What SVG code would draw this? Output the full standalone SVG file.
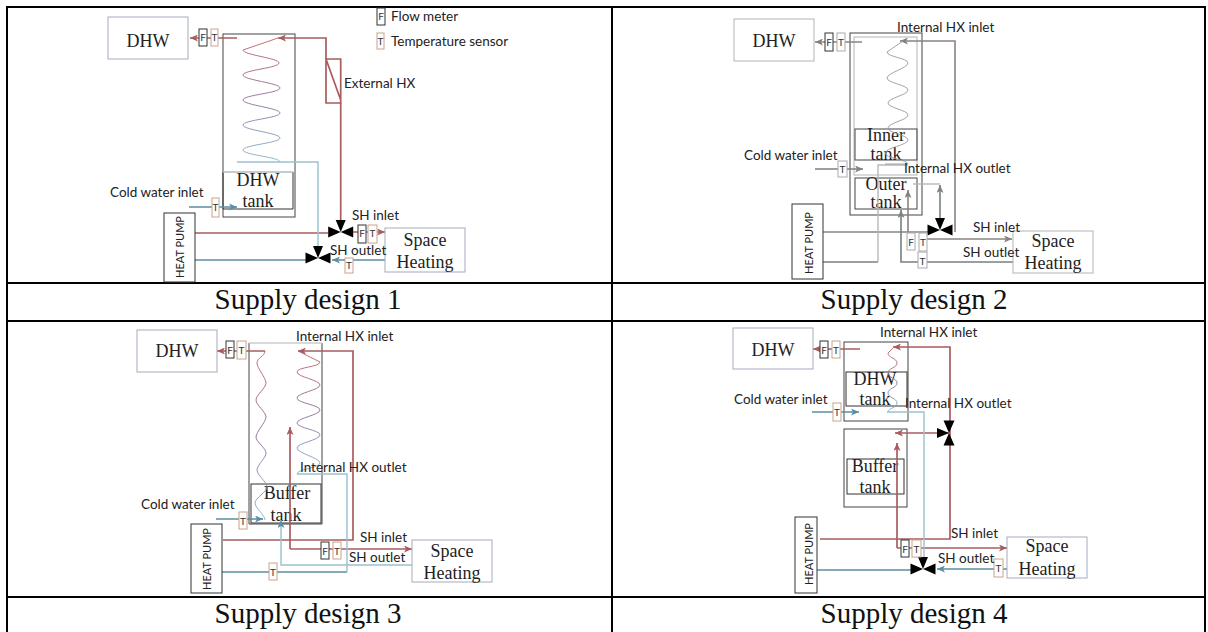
<svg xmlns="http://www.w3.org/2000/svg" width="1208" height="632" viewBox="0 0 1208 632">
<style>
.grid{stroke:#000;stroke-width:2;fill:none}
.cap{font:29px "Liberation Serif",serif;fill:#111;text-anchor:middle}
.t{font:18px "Liberation Serif",serif;fill:#222;text-anchor:middle}
.l{font:13.5px Lato,"Open Sans",sans-serif;fill:#222}
.hp{font:11px Lato,"Open Sans",sans-serif;fill:#222;text-anchor:middle}
.s{font:10px Lato,"Open Sans",sans-serif;fill:#333;text-anchor:middle}
.box{fill:#fff;stroke:#a4abbc;stroke-width:1}
.gbox{fill:#fff;stroke:#b4b4b4;stroke-width:1}
.tank{fill:none;stroke:#444;stroke-width:1}
.in{fill:none;stroke:#333;stroke-width:1}
.hpb{fill:#fff;stroke:#333;stroke-width:1}
.f{fill:#fff;stroke:#333;stroke-width:1}
.tt{fill:#fff;stroke:#c8a48e;stroke-width:1}
.tg{fill:#fff;stroke:#aaa;stroke-width:1}
path,line{fill:none}
.r{stroke:#a85c5e;stroke-width:1.7}
.b{stroke:#5b8ea3;stroke-width:1.7}
.lb{stroke:#9cc1d0;stroke-width:1.4}
.g{stroke:#8c8281;stroke-width:1.6}
.gd{stroke:#77817f;stroke-width:1.6}
.gl{stroke:#b8b8b8;stroke-width:1.4}
.ar{marker-end:url(#ar)}
.ab{marker-end:url(#ab)}
.ag{marker-end:url(#ag)}
.coil{stroke:url(#cg);stroke-width:.9}
.coilg{stroke:#999;stroke-width:.9}
</style>
<defs>
<linearGradient id="cg" x1="0" y1="0" x2="0" y2="1"><stop offset="0" stop-color="#c0605f"/><stop offset=".5" stop-color="#8a6a9a"/><stop offset="1" stop-color="#7fb5c8"/></linearGradient>
<marker id="ar" markerUnits="userSpaceOnUse" markerWidth="9" markerHeight="7" refX="8" refY="3.5" orient="auto"><path d="M0 0L8 3.500L0 7L2 3.500Z" style="fill:#a85c5e"/></marker>
<marker id="ab" markerUnits="userSpaceOnUse" markerWidth="9" markerHeight="7" refX="8" refY="3.5" orient="auto"><path d="M0 0L8 3.500L0 7L2 3.500Z" style="fill:#5b8ea3"/></marker>
<marker id="ag" markerUnits="userSpaceOnUse" markerWidth="9" markerHeight="7" refX="8" refY="3.5" orient="auto"><path d="M0 0L8 3.500L0 7L2 3.500Z" style="fill:#85807f"/></marker>
<g id="valve"><path d="M-12.500-5.500L-12.500 5.500L0 0L12.500 5.500L12.500-5.500L0 0Z" style="fill:#000"/><path d="M-5-12L5-12L0 0Z" style="fill:#000"/></g>
</defs>
<g id="table">
<path class="grid" d="M7 632V7H1205V632M7 283H1205M7 321H1205M7 597H1205M612 7V632"/>
<text class="cap" x="308" y="309">Supply design 1</text>
<text class="cap" x="914" y="309">Supply design 2</text>
<text class="cap" x="308" y="623">Supply design 3</text>
<text class="cap" x="914" y="623">Supply design 4</text>
</g>
<g id="legend">
<rect class="f" x="377" y="8" width="8" height="17"/><text class="s" x="381" y="20">F</text><text class="l" x="391" y="21">Flow meter</text>
<rect class="tt" x="377" y="33" width="7" height="16"/><text class="s" x="380.5" y="45">T</text><text class="l" x="391" y="46">Temperature sensor</text>
</g>
<g id="design1">
<g id="d1-tank"><rect class="tank" x="223" y="34" width="72" height="183"/><path class="in" d="M223 172V209H293V172"/><path class="gl" d="M223 172H293"/><text class="t" x="258" y="186">DHW</text><text class="t" x="258" y="207">tank</text></g>
<g id="d1-connectors">
<path class="r ar" d="M237 38H190"/>
<path class="r" d="M340.700 103V222"/>
<path class="r" d="M326 59H340.700V103H326ZM326 59L340.700 100"/>
<path class="r ar" d="M326 59V38H278"/>
<path class="r" d="M195 233H328"/>
<path class="r ar" d="M350 232H385"/>
<path class="b" d="M195 260H306"/>
<path class="b ab" d="M385 260H332"/>
<path class="b ab" d="M189 207H237"/>
<path class="lb" d="M237 162H318V248"/>
<path class="coil" d="M278 38L243 50C243 55 279 58 279 63S243 70 243 75S280 83 280 88S243 95 243 100S280 108 280 113S243 120 243 125S280 133 280 138S243 145 243 150S280 157 280 162"/>
</g>
<use href="#valve" x="340.700" y="232"/><use href="#valve" x="318" y="258"/>
<g id="d1-dhw"><rect class="box" x="108" y="17" width="80" height="42"/><text class="t" x="148" y="47">DHW</text></g>
<g id="d1-hp"><rect class="hpb" x="164" y="213" width="31" height="69"/><text class="hp" transform="translate(184 247) rotate(-90)">HEAT PUMP</text></g>
<g id="d1-sh"><rect class="box" x="385" y="228" width="80" height="44"/><text class="t" x="425" y="246">Space</text><text class="t" x="425" y="268">Heating</text></g>
<g id="d1-sensors">
<rect class="f" x="199" y="29" width="8" height="17"/><text class="s" x="203" y="41">F</text><rect class="tt" x="211" y="29" width="7" height="17"/><text class="s" x="214.500" y="41">T</text>
<rect class="tt" x="212" y="198" width="7" height="19"/><text class="s" x="215.500" y="211">T</text>
<rect class="f" x="358" y="225" width="8" height="18"/><text class="s" x="362" y="237">F</text><rect class="tt" x="368" y="225" width="9" height="18"/><text class="s" x="372.500" y="237">T</text>
<rect class="tt" x="345" y="258" width="8" height="15"/><text class="s" x="349" y="269">T</text>
</g>
<text class="l" x="344" y="88">External HX</text><text class="l" x="110" y="197">Cold water inlet</text><text class="l" x="352" y="220">SH inlet</text><text class="l" x="330" y="255">SH outlet</text>
</g>
<g id="design2">
<g id="d2-tank"><rect class="tank" x="850" y="33" width="72" height="182"/><rect class="gbox" style="fill:none" x="854" y="37" width="63" height="138"/><rect class="tank" x="855" y="129" width="62" height="31"/><rect class="tank" x="855" y="178" width="62" height="31"/><text class="t" x="886" y="141">Inner</text><text class="t" x="886" y="160">tank</text><text class="t" x="886" y="190">Outer</text><text class="t" x="886" y="208">tank</text></g>
<g id="d2-connectors">
<path class="g ag" d="M862 42H815"/>
<path class="g ag" d="M955 232V41H900"/>
<path class="gl" d="M913 184H940"/>
<path class="gd ag" d="M940 218V185"/>
<path class="g ag" d="M908 232V190"/>
<path class="g" d="M823 232H928"/>
<path class="g ag" d="M927 239H1012"/>
<path class="gd" d="M823 262H878"/>
<path class="gl" d="M878 262V165H908"/>
<path class="gd ag" d="M815 169H863"/>
<path class="gd ag" d="M1013 262H901V210"/>
<path class="coilg" d="M903 41L887 52C887 57 908 58 908 63S887 73 887 78S908 85 908 90S888 98 888 103S908 110 908 115S888 123 888 128S908 135 908 140S885 148 885 153S908 160 908 164H885"/>
</g>
<use href="#valve" x="940" y="230"/>
<g id="d2-dhw"><rect class="gbox" x="734" y="19" width="80" height="42"/><text class="t" x="774" y="47">DHW</text></g>
<g id="d2-hp"><rect class="hpb" x="792" y="204" width="31" height="75"/><text class="hp" transform="translate(813 243) rotate(-90)">HEAT PUMP</text></g>
<g id="d2-sh"><rect class="gbox" x="1013" y="231" width="80" height="42"/><text class="t" x="1053" y="247">Space</text><text class="t" x="1053" y="269">Heating</text></g>
<g id="d2-sensors">
<rect class="f" x="825" y="33" width="8" height="18"/><text class="s" x="829" y="46">F</text><rect class="tg" x="837" y="33" width="8" height="18"/><text class="s" x="841" y="46">T</text>
<rect class="tg" x="838" y="161" width="9" height="16"/><text class="s" x="842.500" y="173">T</text>
<rect class="tg" x="907" y="233" width="8" height="17"/><text class="s" x="911" y="246">F</text><rect class="tg" x="919" y="233" width="8" height="18"/><text class="s" x="923" y="246">T</text>
<rect class="tg" x="918" y="252" width="9" height="16"/><text class="s" x="922.500" y="265">T</text>
</g>
<text class="l" x="897" y="32">Internal HX inlet</text><text class="l" x="744" y="160">Cold water inlet</text><text class="l" x="904" y="173">Internal HX outlet</text><text class="l" x="973" y="232">SH inlet</text><text class="l" x="963" y="257">SH outlet</text>
</g>
<g id="design3">
<g id="d3-tank"><path class="tank" d="M249 343V524H322V343"/><path style="stroke:#ccc;stroke-width:1.500" d="M249 343H322"/><rect class="in" x="251" y="484" width="70" height="39"/><text class="t" x="287" y="499">Buffer</text><text class="t" x="286" y="521">tank</text></g>
<g id="d3-connectors">
<path class="r ar" d="M265 351H217"/>
<path class="r ar" d="M223 540H353V351H298"/>
<path class="r ar" d="M290 549V427"/>
<path class="r ar" d="M290 549H412"/>
<path class="b" d="M222 572H347"/>
<path class="lb" d="M297 474H347V572"/>
<path class="lb ab" d="M412 565H281V520"/>
<path class="b ab" d="M216 519H263"/>
<path class="coil" d="M265 351C265 356 257 358 257 363S266 378 266 383S256 395 256 400S266 412 266 417S256 432 256 437S266 448 266 453S257 465 257 470S267 482 267 487S255 498 255 503S265 515 265 520"/>
<path class="coil" d="M298 351L320 362C320 367 297 367 297 372S320 380 320 385S297 393 297 398S320 405 320 410S297 418 297 423S320 430 320 435S297 443 297 448S320 458 320 463S297 469 297 474"/>
</g>
<g id="d3-dhw"><rect class="box" x="137" y="330" width="80" height="42"/><text class="t" x="177" y="357">DHW</text></g>
<g id="d3-hp"><rect class="hpb" x="191" y="524" width="31" height="69"/><text class="hp" transform="translate(211 559) rotate(-90)">HEAT PUMP</text></g>
<g id="d3-sh"><rect class="box" x="412" y="540" width="80" height="42"/><text class="t" x="452" y="557">Space</text><text class="t" x="452" y="579">Heating</text></g>
<g id="d3-sensors">
<rect class="f" x="226" y="341" width="8" height="17"/><text class="s" x="230" y="354">F</text><rect class="tt" x="237" y="341" width="9" height="18"/><text class="s" x="241.500" y="354">T</text>
<rect class="tt" x="239" y="512" width="8" height="17"/><text class="s" x="243" y="525">T</text>
<rect class="f" x="321" y="542" width="8" height="17"/><text class="s" x="325" y="555">F</text><rect class="tt" x="333" y="542" width="8" height="17"/><text class="s" x="337" y="555">T</text>
<rect class="tt" x="269" y="563" width="8" height="17"/><text class="s" x="273" y="576">T</text>
</g>
<text class="l" x="296" y="341">Internal HX inlet</text><text class="l" x="300" y="472">Internal HX outlet</text><text class="l" x="141" y="509">Cold water inlet</text><text class="l" x="360" y="542">SH inlet</text><text class="l" x="349" y="562">SH outlet</text>
</g>
<g id="design4">
<g id="d4-tank"><rect class="tank" x="844" y="342" width="64" height="79"/><rect class="in" x="846" y="372" width="61" height="34"/><rect class="tank" x="844" y="429" width="63" height="78"/><rect class="in" x="847" y="459" width="57" height="35"/><text class="t" x="875" y="385">DHW</text><text class="t" x="875" y="405">tank</text><text class="t" x="875" y="472">Buffer</text><text class="t" x="875" y="493">tank</text></g>
<g id="d4-connectors">
<path class="r ar" d="M860 349H813"/>
<path class="r ar" d="M820 539H950V347H893"/>
<path class="r ar" d="M949 433H895"/>
<path class="r ar" d="M897 548V443"/>
<path class="r ar" d="M897 548H1007"/>
<path class="b" d="M817 570H912"/>
<path class="b ab" d="M1007 569H937"/>
<path class="b ab" d="M812 412H859"/>
<path class="lb" d="M887 412H924V560"/>
<path class="coil" d="M893 348L888 353C888 358 897 358 897 363S888 368 888 373S897 378 897 383S888 388 888 393S897 398 897 403S888 408 888 412"/>
</g>
<use href="#valve" x="923" y="569"/>
<g transform="translate(949 433) rotate(-90)"><use href="#valve"/></g>
<g id="d4-dhw"><rect class="box" x="733" y="328" width="80" height="41"/><text class="t" x="773" y="356">DHW</text></g>
<g id="d4-hp"><rect class="hpb" x="795" y="517" width="22" height="76"/><text class="hp" transform="translate(813 554) rotate(-90)">HEAT PUMP</text></g>
<g id="d4-sh"><rect class="box" x="1007" y="537" width="80" height="41"/><text class="t" x="1047" y="552">Space</text><text class="t" x="1047" y="575">Heating</text></g>
<g id="d4-sensors">
<rect class="f" x="820" y="341" width="8" height="17"/><text class="s" x="824" y="354">F</text><rect class="tt" x="832" y="341" width="8" height="17"/><text class="s" x="836" y="354">T</text>
<rect class="tt" x="833" y="403" width="8" height="18"/><text class="s" x="837" y="416">T</text>
<rect class="f" x="901" y="540" width="8" height="17"/><text class="s" x="905" y="553">F</text><rect class="tt" x="912" y="540" width="9" height="17"/><text class="s" x="916.500" y="553">T</text>
<rect class="tt" x="994" y="559" width="9" height="18"/><text class="s" x="998.500" y="572">T</text>
</g>
<text class="l" x="880" y="337">Internal HX inlet</text><text class="l" x="905" y="408">Internal HX outlet</text><text class="l" x="734" y="404">Cold water inlet</text><text class="l" x="951" y="538">SH inlet</text><text class="l" x="938" y="563">SH outlet</text>
</g>
</svg>
